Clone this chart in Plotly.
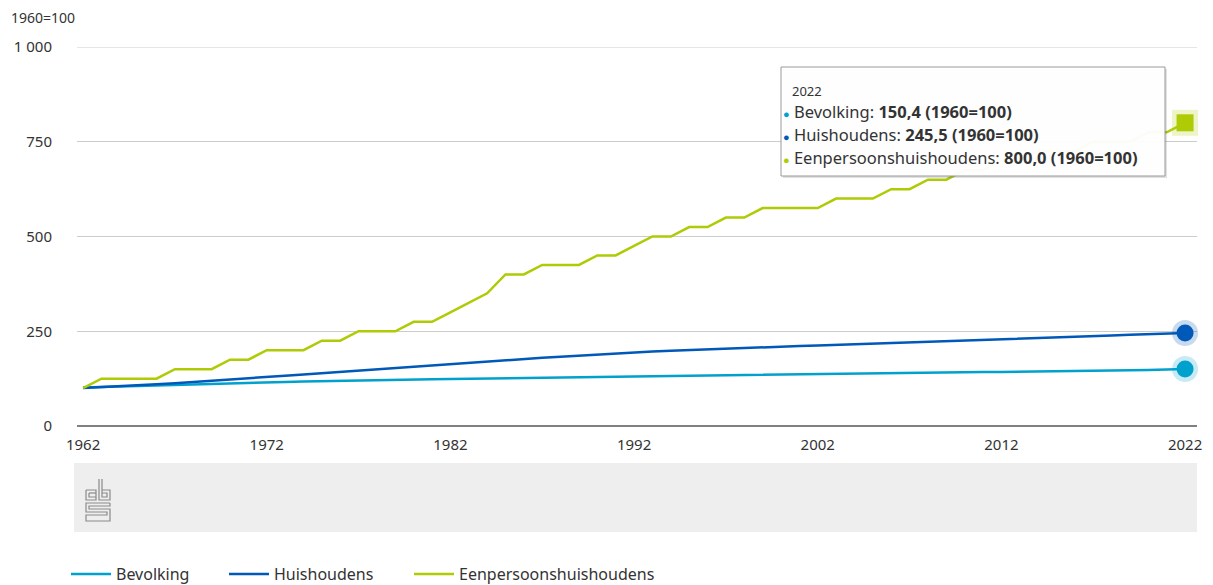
import plotly.graph_objects as go

years = list(range(1962, 2023))

bevolking = [101.5, 103, 104.5, 106, 107.5, 108.8, 110, 111.3, 112.7, 114,
             115.2, 116.2, 117.2, 118.3, 119.3, 120, 120.8, 121.6, 122.5, 123.3,
             123.8, 124.3, 124.8, 125.3, 126, 126.7, 127.4, 128.1, 128.9, 129.8,
             130.6, 131.3, 132, 132.5, 133.1, 133.8, 134.5, 135.2, 136, 136.9,
             137.7, 138.3, 138.8, 139.2, 139.5, 139.8, 140.3, 141, 141.7, 142.3,
             142.8, 143.2, 143.6, 144.1, 144.8, 145.5, 146.3, 147.1, 148, 148.6,
             150.4]

huishoudens = [100, 102, 104.5, 107, 110, 113, 116, 119, 122, 125.5,
               129, 132.5, 136, 139.5, 142.5, 145.5, 148.5, 152, 156, 160,
               163.5, 167, 170.5, 174, 177.5, 180, 183, 186, 189, 192,
               194.5, 196.5, 198.5, 200.5, 202.5, 204.5, 206.5, 208, 209.5, 211,
               212.5, 214, 215.5, 217, 218.5, 220, 221.5, 223, 224.5, 226,
               228, 230, 231.5, 233, 234.5, 236.5, 238.5, 240.5, 242, 243.5,
               245.5]

eenpersoons = [100, 125, 125, 125, 125, 150, 150, 150, 175, 175,
               200, 200, 200, 225, 225, 250, 250, 250, 275, 275,
               300, 325, 350, 400, 400, 425, 425, 425, 450, 450,
               475, 500, 500, 525, 525, 550, 550, 575, 575, 575,
               575, 600, 600, 600, 625, 625, 650, 650, 675, 675,
               700, 700, 725, 725, 725, 750, 750, 750, 775, 775,
               800]

series_names = ["Bevolking", "Huishoudens", "Eenpersoonshuishoudens"]
series_colors = ["#00a1cd", "#0058b8", "#afcb05"]
y_tickvals = [0, 250, 500, 750, 1000]
y_ticktext = ["0", "250", "500", "750", "1 000"]
x_tickvals = [1962, 1972, 1982, 1992, 2002, 2012, 2022]
unit_label = "1960=100"

FONT = "Noto Sans"
TXT = "#333333"
OFF = 8  # page body margin
W, H = 1213 - OFF, 585 - OFF
L, R, T, B = 77, 1197, 47, 426


def px(x):
    return (x - L) / (R - L)


def py(y):
    return (B - y) / (B - T)


fig = go.Figure()
all_series = [bevolking, huishoudens, eenpersoons]
legend_ids = ["legend", "legend2", "legend3"]
for name, color, vals, lg in zip(series_names, series_colors, all_series, legend_ids):
    fig.add_trace(go.Scatter(x=years, y=vals, mode="lines", name=name, legend=lg,
                             line=dict(color=color, width=2.5), hoverinfo="skip"))

symbols = ["circle", "circle", "square"]
for color, vals, sym in zip(series_colors, all_series, symbols):
    fig.add_trace(go.Scatter(x=[years[-1]], y=[vals[-1]], mode="markers", showlegend=False,
                             marker=dict(size=26, color=color, opacity=0.22, symbol=sym),
                             hoverinfo="skip", cliponaxis=False))
    fig.add_trace(go.Scatter(x=[years[-1]], y=[vals[-1]], mode="markers", showlegend=False,
                             marker=dict(size=17, color=color, symbol=sym,
                                         line=dict(width=0)),
                             hoverinfo="skip", cliponaxis=False))

shapes = []
shapes.append(dict(type="rect", xref="paper", yref="paper", x0=px(74), x1=px(1197),
                   y0=py(532), y1=py(463), fillcolor="#eeeeee", line=dict(width=0), layer="below"))
logo_col = "#8a8a8a"
logo_segments = [
    [(86, 490), (96, 490), (96, 500), (86, 500), (86, 490)],
    [(89, 493), (96, 493)],
    [(89, 493), (89, 497), (96, 497)],
    [(99, 479), (99, 500), (110, 500), (110, 490), (102, 490)],
    [(102, 479), (102, 497), (107, 497), (107, 493), (102, 493)],
    [(110, 503), (86, 503), (86, 512), (107, 512), (107, 515), (86, 515), (86, 521), (110, 521),
     (110, 509), (89, 509), (89, 506), (110, 506), (110, 503)],
]
for seg in logo_segments:
    path = "M " + " L ".join(f"{px(a):.5f},{py(b):.5f}" for a, b in seg)
    shapes.append(dict(type="path", xref="paper", yref="paper", path=path,
                       line=dict(color=logo_col, width=1.2)))

shapes.append(dict(type="line", xref="paper", yref="y", x0=0, x1=1, y0=1000, y1=1000,
                   line=dict(color="#cccccc", width=1), layer="below"))

tx0, tx1, ty0, ty1 = 781, 1165, 67, 176
shapes.append(dict(type="rect", xref="paper", yref="paper", x0=px(tx0 + 2), x1=px(tx1 + 2),
                   y0=py(ty1 + 2), y1=py(ty0 + 2), fillcolor="rgba(0,0,0,0.12)",
                   line=dict(width=0)))
shapes.append(dict(type="rect", xref="paper", yref="paper", x0=px(tx0), x1=px(tx1),
                   y0=py(ty1), y1=py(ty0), fillcolor="rgba(255,255,255,0.96)",
                   line=dict(color="#9a9a9a", width=1)))

annotations = [
    dict(text=unit_label, xref="paper", yref="paper", x=px(9), y=py(18),
         xanchor="left", yanchor="middle", showarrow=False,
         font=dict(family=FONT, size=14, color=TXT)),
    dict(text=str(years[-1]), xref="paper", yref="paper", x=px(790), y=py(91),
         xanchor="left", yanchor="middle", showarrow=False,
         font=dict(family=FONT, size=13, color=TXT)),
]


def fmt(v):
    return f"{v:.1f}".replace(".", ",")


line_ys = [112, 134, 157]
for name, color, vals, yy in zip(series_names, series_colors, all_series, line_ys):
    txt = (f"<span style='color:{color};font-size:11px'>●</span> {name}: "
           f"<b>{fmt(vals[-1])} ({unit_label})</b>")
    annotations.append(dict(text=txt, xref="paper", yref="paper", x=px(781), y=py(yy),
                            xanchor="left", yanchor="middle", showarrow=False,
                            font=dict(family=FONT, size=16.5, color=TXT)))

legend_common = dict(orientation="h", xanchor="left", yanchor="middle", y=py(574),
                     font=dict(family=FONT, size=16, color=TXT), itemwidth=40,
                     bgcolor="rgba(0,0,0,0)")
legend_x_pages = [66, 224, 409]

fig.update_layout(
    width=W, height=H,
    margin=dict(l=L - OFF, r=W - (R - OFF), t=T - OFF, b=H - (B - OFF), autoexpand=False),
    paper_bgcolor="white", plot_bgcolor="white",
    font=dict(family=FONT, size=15, color=TXT),
    shapes=shapes, annotations=annotations,
    showlegend=True,
    legend=dict(x=px(legend_x_pages[0]), **legend_common),
    legend2=dict(x=px(legend_x_pages[1]), **legend_common),
    legend3=dict(x=px(legend_x_pages[2]), **legend_common),
    xaxis=dict(range=[1961.67, 2022.65], tickvals=x_tickvals, showgrid=False,
               zeroline=False, showline=False, ticks="", ticklabelstandoff=8,
               tickfont=dict(family=FONT, size=15, color=TXT)),
    yaxis=dict(range=[0, 1000], tickvals=y_tickvals, ticktext=y_ticktext,
               showgrid=True, gridcolor="#cccccc", gridwidth=1,
               zeroline=True, zerolinecolor="#808080", zerolinewidth=2,
               showline=False, ticks="", ticklabelstandoff=24,
               tickfont=dict(family=FONT, size=15, color=TXT)),
)

fig.write_html("out.html")
